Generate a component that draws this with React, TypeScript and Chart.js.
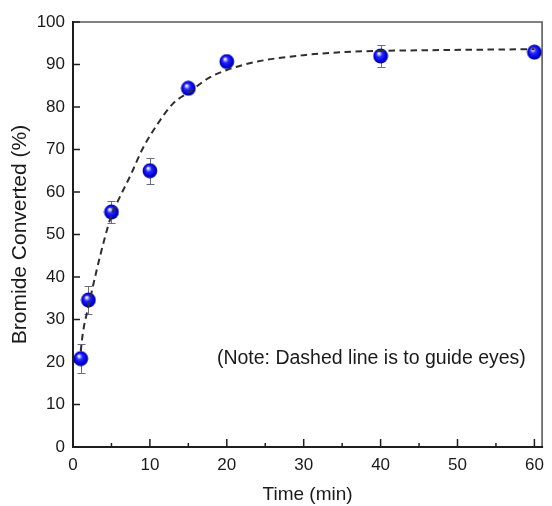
import React, { useEffect, useRef } from "react";
import { Chart, registerables } from "chart.js";

Chart.register(...registerables);

// Measured points (time in min, bromide converted in %)
const times = [1, 2, 5, 10, 15, 20, 40, 60];
const converted = [20.8, 34.6, 55.3, 65.0, 84.4, 90.7, 92.0, 92.9];
const errors = [3.5, 3.2, 2.7, 3.0, 1.0, 1.0, 2.6, 1.0];

// Dashed guide-to-the-eye curve
const guideTimes = [1, 1.3, 2, 3, 4, 5, 6, 7.5, 9, 11, 13, 15.5, 17.5, 20, 24, 30, 35, 40, 48, 60];
const guideValues = [22.5, 27, 33, 41, 48.3, 54.5, 58.5, 64, 70, 76, 80.8, 84, 86.7, 88.7, 90.7, 92.2, 92.9, 93.2, 93.4, 93.6];

const xTicks = [0, 10, 20, 30, 40, 50, 60];
const xMinorTicks = [5, 15, 25, 35, 45, 55];
const yTicks = [0, 10, 20, 30, 40, 50, 60, 70, 80, 90, 100];

const xTitle = "Time (min)";
const yTitle = "Bromide Converted (%)";
const noteText = "(Note: Dashed line is to guide eyes)";
const noteAt = { x: 38.8, y: 20.7 };

const FONT = '"Liberation Sans", Arial, Helvetica, sans-serif';

function makeSphere(r: number): HTMLCanvasElement {
  const size = Math.ceil(r * 2);
  const c = document.createElement("canvas");
  c.width = size;
  c.height = size;
  const g = c.getContext("2d")!;
  const cx = size / 2;
  const cy = size / 2;
  const grad = g.createRadialGradient(cx - r * 0.25, cy - r * 0.35, r * 0.05, cx, cy, r);
  grad.addColorStop(0, "#ffffff");
  grad.addColorStop(0.14, "#b0b0ff");
  grad.addColorStop(0.35, "#2828ff");
  grad.addColorStop(0.75, "#0000dc");
  grad.addColorStop(1, "#000080");
  g.fillStyle = grad;
  g.beginPath();
  g.arc(cx, cy, r - 0.3, 0, Math.PI * 2);
  g.fill();
  return c;
}

const decorPlugin = {
  id: "decor",
  beforeDatasetsDraw(chart: any) {
    const { ctx, chartArea: a, scales } = chart;
    const x = scales.x;
    const y = scales.y;
    ctx.save();
    // frame
    ctx.lineCap = "square";
    ctx.strokeStyle = "#5a5a5a";
    ctx.lineWidth = 1.6;
    ctx.beginPath();
    ctx.moveTo(a.left, a.top);
    ctx.lineTo(a.right, a.top);
    ctx.lineTo(a.right, a.bottom);
    ctx.stroke();
    ctx.strokeStyle = "#1e1e1e";
    ctx.lineWidth = 2;
    ctx.beginPath();
    ctx.moveTo(a.left, a.top);
    ctx.lineTo(a.left, a.bottom);
    ctx.lineTo(a.right, a.bottom);
    ctx.stroke();
    // inward ticks
    ctx.lineWidth = 1.5;
    ctx.lineCap = "butt";
    ctx.beginPath();
    xTicks.forEach((v) => {
      const px = x.getPixelForValue(v);
      ctx.moveTo(px, a.bottom);
      ctx.lineTo(px, a.bottom - 8);
    });
    xMinorTicks.forEach((v) => {
      const px = x.getPixelForValue(v);
      ctx.moveTo(px, a.bottom);
      ctx.lineTo(px, a.bottom - 4);
    });
    yTicks.forEach((v) => {
      const py = y.getPixelForValue(v);
      ctx.moveTo(a.left, py);
      ctx.lineTo(a.left + 7, py);
    });
    ctx.stroke();
    // error bars
    ctx.strokeStyle = "#6a6a8c";
    ctx.lineWidth = 1;
    ctx.beginPath();
    times.forEach((t, i) => {
      const px = Math.round(x.getPixelForValue(t)) + 0.5;
      const top = Math.round(y.getPixelForValue(converted[i] + errors[i])) + 0.5;
      const bot = Math.round(y.getPixelForValue(converted[i] - errors[i])) + 0.5;
      ctx.moveTo(px, top);
      ctx.lineTo(px, bot);
      ctx.moveTo(px - 4, top);
      ctx.lineTo(px + 4, top);
      ctx.moveTo(px - 4, bot);
      ctx.lineTo(px + 4, bot);
    });
    ctx.stroke();
    ctx.restore();
  },
  afterDraw(chart: any) {
    const { ctx, scales } = chart;
    ctx.save();
    ctx.fillStyle = "#1a1a1a";
    ctx.font = `19.5px ${FONT}`;
    ctx.textAlign = "center";
    ctx.textBaseline = "middle";
    ctx.fillText(noteText, scales.x.getPixelForValue(noteAt.x), scales.y.getPixelForValue(noteAt.y));
    ctx.restore();
  },
};

export default function App() {
  const ref = useRef<HTMLCanvasElement>(null);
  useEffect(() => {
    document.body.style.margin = "0";
    const canvas = ref.current!;
    const sphere = makeSphere(7.7);
    const chart = new Chart(canvas, {
      type: "scatter",
      data: {
        datasets: [
          {
            label: "guide",
            data: guideTimes.map((t, i) => ({ x: t, y: guideValues[i] })),
            showLine: true,
            borderColor: "#2e2e2e",
            borderWidth: 2,
            borderDash: [6.5, 4.5],
            pointRadius: 0,
            cubicInterpolationMode: "monotone",
            fill: false,
          },
          {
            label: "measured",
            data: times.map((t, i) => ({ x: t, y: converted[i] })),
            showLine: false,
            pointStyle: sphere as any,
            pointRadius: 7.7,
            pointHoverRadius: 7.7,
            clip: false as any,
          },
        ],
      },
      options: {
        animation: false,
        responsive: false,
        devicePixelRatio: 1,
        events: [],
        layout: { padding: { top: 22, right: 1, left: 0, bottom: 0 } },
        plugins: { legend: { display: false }, tooltip: { enabled: false } },
        scales: {
          x: {
            type: "linear",
            min: 0,
            max: 61,
            afterBuildTicks: (s: any) => {
              s.ticks = xTicks.map((v) => ({ value: v }));
            },
            afterFit: (s: any) => {
              s.height = 59;
            },
            grid: { display: false, drawTicks: false },
            border: { display: false },
            ticks: { padding: 8, color: "#1a1a1a", font: { size: 17, family: FONT }, maxRotation: 0 },
            title: {
              display: true,
              text: xTitle,
              color: "#1a1a1a",
              font: { size: 19, family: FONT },
              padding: { top: 0, bottom: 0 },
            },
          },
          y: {
            type: "linear",
            min: 0,
            max: 100,
            afterBuildTicks: (s: any) => {
              s.ticks = yTicks.map((v) => ({ value: v }));
            },
            afterFit: (s: any) => {
              s.width = 73;
            },
            grid: { display: false, drawTicks: false },
            border: { display: false },
            ticks: { padding: 8, color: "#1a1a1a", font: { size: 17, family: FONT } },
            title: {
              display: true,
              text: yTitle,
              color: "#1a1a1a",
              font: { size: 21, family: FONT },
              padding: { top: 8, bottom: 0 },
            },
          },
        },
      },
      plugins: [decorPlugin],
    } as any);
    return () => chart.destroy();
  }, []);
  return <canvas ref={ref} width={552} height={506} style={{ display: "block", width: 552, height: 506 }} />;
}
